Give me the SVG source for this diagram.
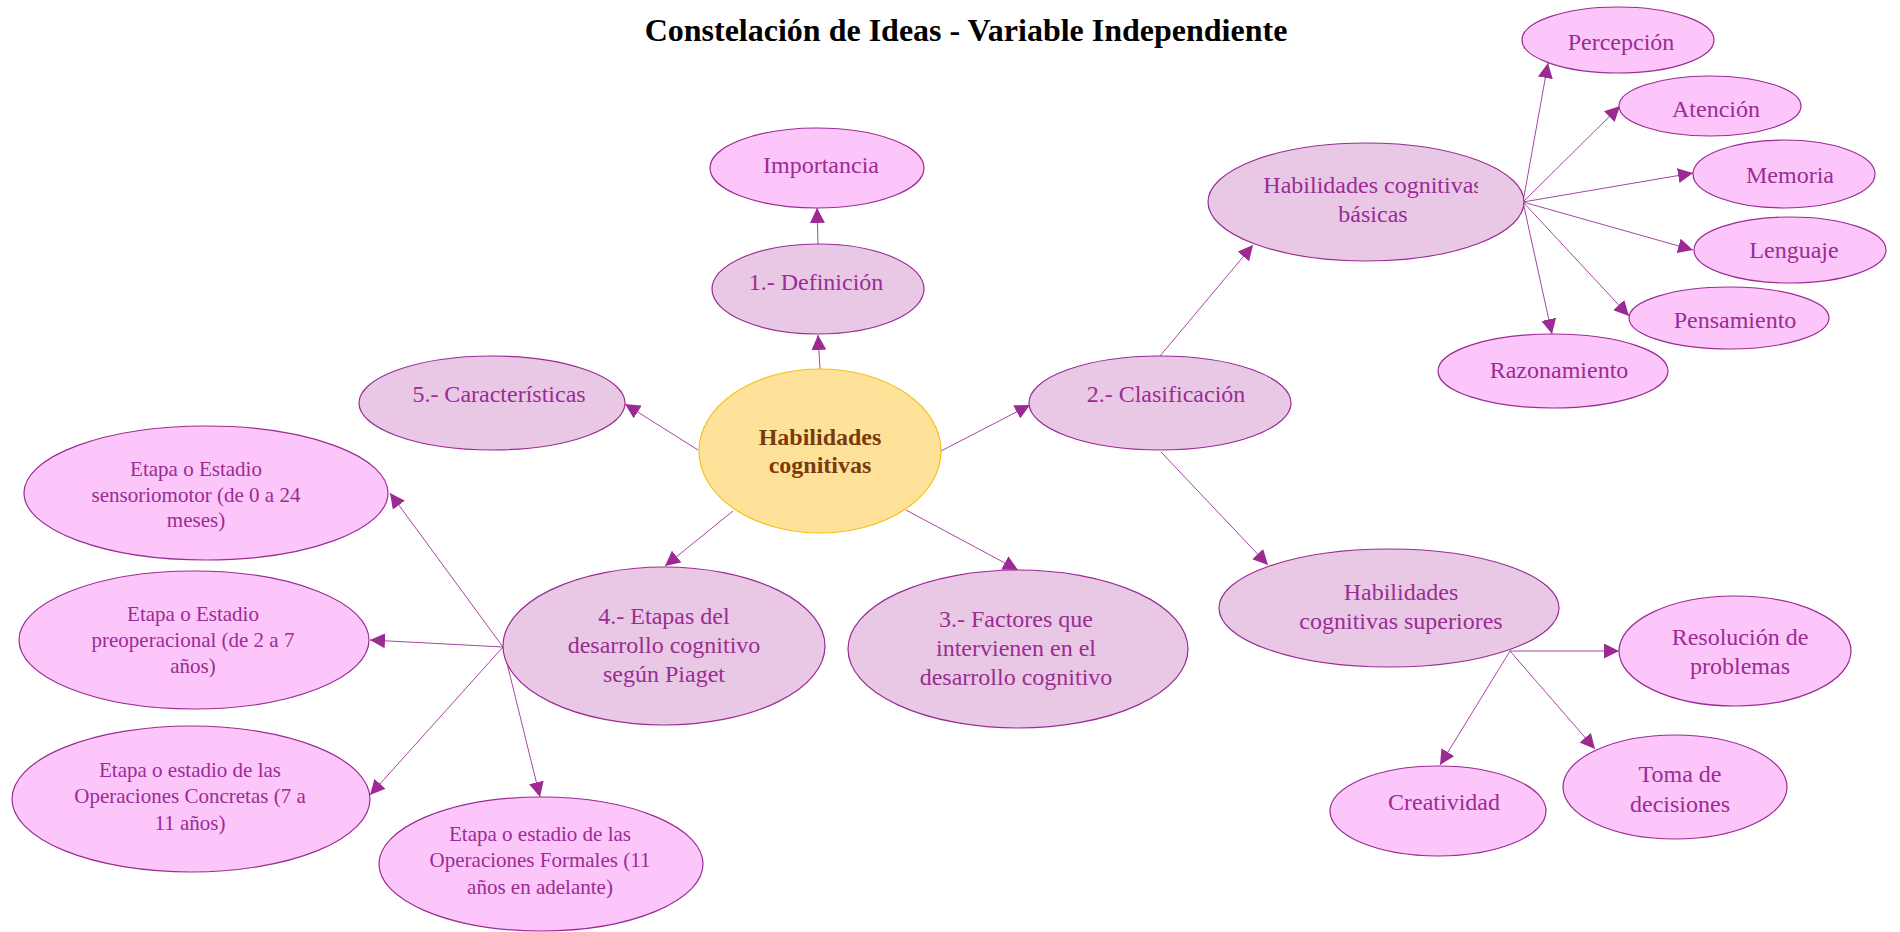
<svg xmlns="http://www.w3.org/2000/svg" width="1900" height="932" viewBox="0 0 1900 932">
  <style>
    .title { font-family: "Liberation Serif", "Times New Roman", serif; font-size: 32px; font-weight: bold; fill: #000; text-anchor: middle; }
    .lbl { font-family: "Liberation Serif", "Times New Roman", serif; font-size: 24px; fill: #9A2C93; text-anchor: middle; }
    .sm { font-size: 21px; }
    .root-lbl { font-family: "Liberation Serif", "Times New Roman", serif; font-size: 24px; font-weight: bold; fill: #7A3A0E; text-anchor: middle; }
    .root { fill: #FFE29A; stroke: #F6BF16; stroke-width: 1.2; }
    .branch { fill: #E9C8E6; stroke: #9A2C93; stroke-width: 1.2; }
    .leaf { fill: #FDC6FB; stroke: #9A2C93; stroke-width: 1.2; }
    .edge { stroke: #A845A4; stroke-width: 1; fill: none; marker-end: url(#arrow); }
  </style>
  <defs>
    <marker id="arrow" viewBox="0 0 15 15" refX="15" refY="7.5" markerWidth="15" markerHeight="15" markerUnits="userSpaceOnUse" orient="auto">
      <path d="M0,0 L15,7.5 L0,15 z" fill="#9C2A92"/>
    </marker>
    <clipPath id="clip-basic">
      <rect x="1200" y="140" width="278" height="120"/>
    </clipPath>
  </defs>

  <rect x="0" y="0" width="1900" height="932" fill="#fff"/>

  <text class="title" x="966" y="41">Constelación de Ideas - Variable Independiente</text>

  <!-- connectors -->
  <g id="edges">
    <line class="edge" x1="820" y1="369" x2="818" y2="335"/>
    <line class="edge" x1="818" y1="244" x2="817" y2="208"/>
    <line class="edge" x1="698" y1="450" x2="625" y2="404"/>
    <line class="edge" x1="941" y1="451" x2="1030" y2="405"/>
    <line class="edge" x1="733" y1="511" x2="665" y2="566"/>
    <line class="edge" x1="906" y1="510" x2="1018" y2="570"/>
    <line class="edge" x1="1160" y1="356" x2="1253" y2="245"/>
    <line class="edge" x1="1161" y1="452" x2="1268" y2="565"/>
    <line class="edge" x1="1523" y1="202" x2="1548" y2="63"/>
    <line class="edge" x1="1523" y1="202" x2="1620" y2="106"/>
    <line class="edge" x1="1523" y1="202" x2="1693" y2="173"/>
    <line class="edge" x1="1523" y1="202" x2="1693" y2="250"/>
    <line class="edge" x1="1523" y1="202" x2="1629" y2="316"/>
    <line class="edge" x1="1523" y1="202" x2="1552" y2="334"/>
    <line class="edge" x1="1510" y1="651" x2="1619" y2="651"/>
    <line class="edge" x1="1510" y1="651" x2="1440" y2="765"/>
    <line class="edge" x1="1510" y1="651" x2="1595" y2="749"/>
    <line class="edge" x1="503" y1="647" x2="390" y2="493"/>
    <line class="edge" x1="503" y1="647" x2="370" y2="640"/>
    <line class="edge" x1="503" y1="647" x2="370" y2="795"/>
    <line class="edge" x1="503" y1="647" x2="540" y2="797"/>
  </g>

  <!-- nodes -->
  <g id="n-importancia">
    <ellipse class="leaf" cx="817" cy="168" rx="107" ry="40"/>
    <text class="lbl" x="821" y="173">Importancia</text>
  </g>
  <g id="n-definicion">
    <ellipse class="branch" cx="818" cy="289" rx="106" ry="45"/>
    <text class="lbl" x="816" y="290">1.- Definición</text>
  </g>
  <g id="n-root">
    <ellipse class="root" cx="820" cy="451" rx="121" ry="82"/>
    <text class="root-lbl" x="820" y="445">Habilidades</text>
    <text class="root-lbl" x="820" y="473">cognitivas</text>
  </g>
  <g id="n-caracteristicas">
    <ellipse class="branch" cx="492" cy="403" rx="133" ry="47"/>
    <text class="lbl" x="499" y="402">5.- Características</text>
  </g>
  <g id="n-clasificacion">
    <ellipse class="branch" cx="1160" cy="403" rx="131" ry="47"/>
    <text class="lbl" x="1166" y="402">2.- Clasificación</text>
  </g>
  <g id="n-basicas">
    <ellipse class="branch" cx="1366" cy="202" rx="158" ry="59"/>
    <g clip-path="url(#clip-basic)">
      <text class="lbl" x="1373" y="193">Habilidades cognitivas</text>
    </g>
    <text class="lbl" x="1373" y="222">básicas</text>
  </g>
  <g id="n-percepcion">
    <ellipse class="leaf" cx="1618" cy="40" rx="96" ry="33"/>
    <text class="lbl" x="1621" y="50">Percepción</text>
  </g>
  <g id="n-atencion">
    <ellipse class="leaf" cx="1710" cy="106" rx="91" ry="30"/>
    <text class="lbl" x="1716" y="117">Atención</text>
  </g>
  <g id="n-memoria">
    <ellipse class="leaf" cx="1784" cy="174" rx="91" ry="34"/>
    <text class="lbl" x="1790" y="183">Memoria</text>
  </g>
  <g id="n-lenguaje">
    <ellipse class="leaf" cx="1790" cy="250" rx="96" ry="33"/>
    <text class="lbl" x="1794" y="258">Lenguaje</text>
  </g>
  <g id="n-pensamiento">
    <ellipse class="leaf" cx="1729" cy="318" rx="100" ry="31"/>
    <text class="lbl" x="1735" y="328">Pensamiento</text>
  </g>
  <g id="n-razonamiento">
    <ellipse class="leaf" cx="1553" cy="371" rx="115" ry="37"/>
    <text class="lbl" x="1559" y="378">Razonamiento</text>
  </g>
  <g id="n-superiores">
    <ellipse class="branch" cx="1389" cy="608" rx="170" ry="59"/>
    <text class="lbl" x="1401" y="600">Habilidades</text>
    <text class="lbl" x="1401" y="629">cognitivas superiores</text>
  </g>
  <g id="n-resolucion">
    <ellipse class="leaf" cx="1735" cy="651" rx="116" ry="55"/>
    <text class="lbl" x="1740" y="645">Resolución de</text>
    <text class="lbl" x="1740" y="674">problemas</text>
  </g>
  <g id="n-toma">
    <ellipse class="leaf" cx="1675" cy="787" rx="112" ry="52"/>
    <text class="lbl" x="1680" y="782">Toma de</text>
    <text class="lbl" x="1680" y="812">decisiones</text>
  </g>
  <g id="n-creatividad">
    <ellipse class="leaf" cx="1438" cy="811" rx="108" ry="45"/>
    <text class="lbl" x="1444" y="810">Creatividad</text>
  </g>
  <g id="n-factores">
    <ellipse class="branch" cx="1018" cy="649" rx="170" ry="79"/>
    <text class="lbl" x="1016" y="627">3.- Factores que</text>
    <text class="lbl" x="1016" y="656">intervienen en el</text>
    <text class="lbl" x="1016" y="685">desarrollo cognitivo</text>
  </g>
  <g id="n-etapas">
    <ellipse class="branch" cx="664" cy="646" rx="161" ry="79"/>
    <text class="lbl" x="664" y="624">4.- Etapas del</text>
    <text class="lbl" x="664" y="653">desarrollo cognitivo</text>
    <text class="lbl" x="664" y="682">según Piaget</text>
  </g>
  <g id="n-sensoriomotor">
    <ellipse class="leaf" cx="206" cy="493" rx="182" ry="67"/>
    <text class="lbl sm" x="196" y="476">Etapa o Estadio</text>
    <text class="lbl sm" x="196" y="502">sensoriomotor (de 0 a 24</text>
    <text class="lbl sm" x="196" y="527">meses)</text>
  </g>
  <g id="n-preoperacional">
    <ellipse class="leaf" cx="194" cy="640" rx="175" ry="69"/>
    <text class="lbl sm" x="193" y="621">Etapa o Estadio</text>
    <text class="lbl sm" x="193" y="647">preoperacional (de 2 a 7</text>
    <text class="lbl sm" x="193" y="673">años)</text>
  </g>
  <g id="n-concretas">
    <ellipse class="leaf" cx="191" cy="799" rx="179" ry="73"/>
    <text class="lbl sm" x="190" y="777">Etapa o estadio de las</text>
    <text class="lbl sm" x="190" y="803">Operaciones Concretas (7 a</text>
    <text class="lbl sm" x="190" y="830">11 años)</text>
  </g>
  <g id="n-formales">
    <ellipse class="leaf" cx="541" cy="864" rx="162" ry="67"/>
    <text class="lbl sm" x="540" y="841">Etapa o estadio de las</text>
    <text class="lbl sm" x="540" y="867">Operaciones Formales (11</text>
    <text class="lbl sm" x="540" y="894">años en adelante)</text>
  </g>
</svg>
